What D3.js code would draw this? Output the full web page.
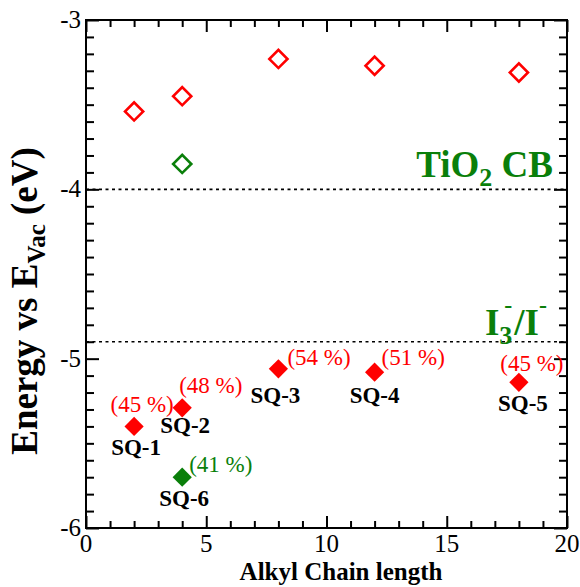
<!DOCTYPE html>
<html lang="en">
<head>
<meta charset="utf-8">
<title>Energy vs alkyl chain length</title>
<script src="https://cdn.jsdelivr.net/npm/d3@7"></script>
<style>
  body { margin: 0; background: #fff; }
  text { font-family: "Liberation Serif", "Times New Roman", serif; }
</style>
</head>
<body>
<script>
// data
var chainLen = [2, 4, 8, 12, 18];
var lumo = [-3.54, -3.45, -3.23, -3.27, -3.31];
var homo = [-5.40, -5.29, -5.06, -5.08, -5.14];
var names = ["SQ-1", "SQ-2", "SQ-3", "SQ-4", "SQ-5"];
var effs = ["(45 %)", "(48 %)", "(54 %)", "(51 %)", "(45 %)"];

var sq6Len = [4];
var sq6Lumo = [-3.85];
var sq6Homo = [-5.70];
var sq6Names = ["SQ-6"];
var sq6Effs = ["(41 %)"];

var refLevels = [-4.0, -4.9];
var xTicks = [0, 5, 10, 15, 20];
var yTicks = [-3, -4, -5, -6];

// label offsets (pixels) relative to the marker
var effOffset = [[8, -14, "middle"], [-3, -15, "start"], [9, -4, "start"], [7, -7, "start"], [13, -11, "middle"]];
var nameOffset = [[2, 29], [3, 25], [-3, 34], [0, 31], [4, 29]];
var sq6EffOffset = [[7, -5, "start"]];
var sq6NameOffset = [[2, 29]];

var w = 580, h = 587;
var pLeft = 86, pRight = 567, pTop = 20, pBottom = 528;

var svg = d3.select("body").append("svg")
    .attr("width", w)
    .attr("height", h);

svg.append("rect").attr("width", w).attr("height", h).attr("fill", "#fff");

var x = d3.scaleLinear().domain([0, 20]).range([pLeft, pRight]);
var y = d3.scaleLinear().domain([-6, -3]).range([pBottom, pTop]);

var red = "#ff0000", green = "#0a7f0a";

// dotted reference levels
svg.selectAll("line.ref")
    .data(refLevels)
    .enter().append("line")
    .attr("class", "ref")
    .attr("x1", x(0)).attr("x2", x(20))
    .attr("y1", function(d) { return y(d); })
    .attr("y2", function(d) { return y(d); })
    .attr("stroke", "#000")
    .attr("stroke-width", 1.6)
    .attr("stroke-dasharray", "3,3.5");

// axes with inward ticks on all sides
function tickVals(a, b, step) {
  var out = [];
  for (var v = a; v <= b + 1e-9; v += step) out.push(+v.toFixed(2));
  return out;
}
var xMinor = tickVals(0, 20, 1).filter(function(v) { return v % 5 !== 0; });
var yMinor = tickVals(-6, -3, 0.1).filter(function(v) { return Math.abs(v - Math.round(v)) > 1e-6; });

function drawAxis(axis, tx, ty) {
  var g = svg.append("g").attr("transform", "translate(" + tx + "," + ty + ")").call(axis);
  g.selectAll("text").remove();
  g.select(".domain").remove();
  g.selectAll("line").attr("stroke", "#000").attr("stroke-width", 2);
  return g;
}

drawAxis(d3.axisBottom(x).tickValues(xTicks).tickSize(-12), 0, pBottom);
drawAxis(d3.axisBottom(x).tickValues(xMinor).tickSize(-7), 0, pBottom);
drawAxis(d3.axisTop(x).tickValues(xTicks).tickSize(-12), 0, pTop);
drawAxis(d3.axisTop(x).tickValues(xMinor).tickSize(-7), 0, pTop);
drawAxis(d3.axisLeft(y).tickValues(yTicks).tickSize(-13), pLeft, 0);
drawAxis(d3.axisLeft(y).tickValues(yMinor).tickSize(-8), pLeft, 0);
drawAxis(d3.axisRight(y).tickValues(yTicks).tickSize(-13), pRight, 0);
drawAxis(d3.axisRight(y).tickValues(yMinor).tickSize(-8), pRight, 0);

svg.append("rect")
    .attr("x", pLeft).attr("y", pTop)
    .attr("width", pRight - pLeft).attr("height", pBottom - pTop)
    .attr("fill", "none").attr("stroke", "#000").attr("stroke-width", 2);

// tick labels
svg.selectAll("text.xt")
    .data(xTicks)
    .enter().append("text")
    .attr("class", "xt")
    .attr("x", function(d) { return x(d); })
    .attr("y", 552)
    .attr("text-anchor", "middle")
    .attr("font-size", 25)
    .text(function(d) { return d; });

svg.selectAll("text.yt")
    .data(yTicks)
    .enter().append("text")
    .attr("class", "yt")
    .attr("x", 81)
    .attr("y", function(d) { return y(d) + 8; })
    .attr("text-anchor", "end")
    .attr("font-size", 25)
    .text(function(d) { return d; });

// axis titles
svg.append("text")
    .attr("x", 341).attr("y", 580)
    .attr("text-anchor", "middle")
    .attr("font-size", 25).attr("font-weight", "bold")
    .text("Alkyl Chain length");

var yt = svg.append("text")
    .attr("transform", "translate(37,301) rotate(-90)")
    .attr("text-anchor", "middle")
    .attr("font-size", 37).attr("font-weight", "bold");
yt.append("tspan").text("Energy vs E");
yt.append("tspan").attr("font-size", 25).attr("dy", 8).text("Vac");
yt.append("tspan").attr("dy", -8).text(" (eV)");

// level labels
var tio = svg.append("text")
    .attr("x", 553).attr("y", 177)
    .attr("text-anchor", "end")
    .attr("font-size", 37).attr("font-weight", "bold")
    .attr("fill", green);
tio.append("tspan").text("TiO");
tio.append("tspan").attr("font-size", 26).attr("dy", 9).text("2");
tio.append("tspan").attr("dy", -9).text(" CB");

var iod = svg.append("text")
    .attr("x", 547).attr("y", 335)
    .attr("text-anchor", "end")
    .attr("font-size", 37).attr("font-weight", "bold")
    .attr("fill", green);
iod.append("tspan").text("I");
iod.append("tspan").attr("font-size", 26).attr("dy", 9).text("3");
iod.append("tspan").attr("font-size", 24).attr("dx", -8).attr("dy", -31).text("-");
iod.append("tspan").attr("dx", 2).attr("dy", 22).text("/I");
iod.append("tspan").attr("font-size", 24).attr("dy", -22).text("-");

// markers
var diamond = d3.symbol().type(d3.symbolSquare);

function openMarks(xs, ys, color) {
  svg.append("g").selectAll("path")
    .data(xs)
    .enter().append("path")
    .attr("d", diamond.size(165)())
    .attr("transform", function(d, i) { return "translate(" + x(d) + "," + y(ys[i]) + ") rotate(45)"; })
    .attr("fill", "none")
    .attr("stroke", color)
    .attr("stroke-width", 2.6);
}

function filledMarks(xs, ys, color, labels, eff, nOff, eOff) {
  var g = svg.append("g");
  g.selectAll("path")
    .data(xs)
    .enter().append("path")
    .attr("d", diamond.size(185)())
    .attr("transform", function(d, i) { return "translate(" + x(d) + "," + y(ys[i]) + ") rotate(45)"; })
    .attr("fill", color);
  g.selectAll("text.eff")
    .data(xs)
    .enter().append("text")
    .attr("class", "eff")
    .attr("x", function(d, i) { return x(d) + eOff[i][0]; })
    .attr("y", function(d, i) { return y(ys[i]) + eOff[i][1]; })
    .attr("text-anchor", function(d, i) { return eOff[i][2]; })
    .attr("font-size", 23)
    .attr("fill", color)
    .text(function(d, i) { return eff[i]; });
  g.selectAll("text.name")
    .data(xs)
    .enter().append("text")
    .attr("class", "name")
    .attr("x", function(d, i) { return x(d) + nOff[i][0]; })
    .attr("y", function(d, i) { return y(ys[i]) + nOff[i][1]; })
    .attr("text-anchor", "middle")
    .attr("font-size", 23)
    .attr("font-weight", "bold")
    .attr("fill", "#000")
    .text(function(d, i) { return labels[i]; });
}

openMarks(chainLen, lumo, red);
openMarks(sq6Len, sq6Lumo, green);
filledMarks(chainLen, homo, red, names, effs, nameOffset, effOffset);
filledMarks(sq6Len, sq6Homo, green, sq6Names, sq6Effs, sq6NameOffset, sq6EffOffset);
</script>
</body>
</html>
